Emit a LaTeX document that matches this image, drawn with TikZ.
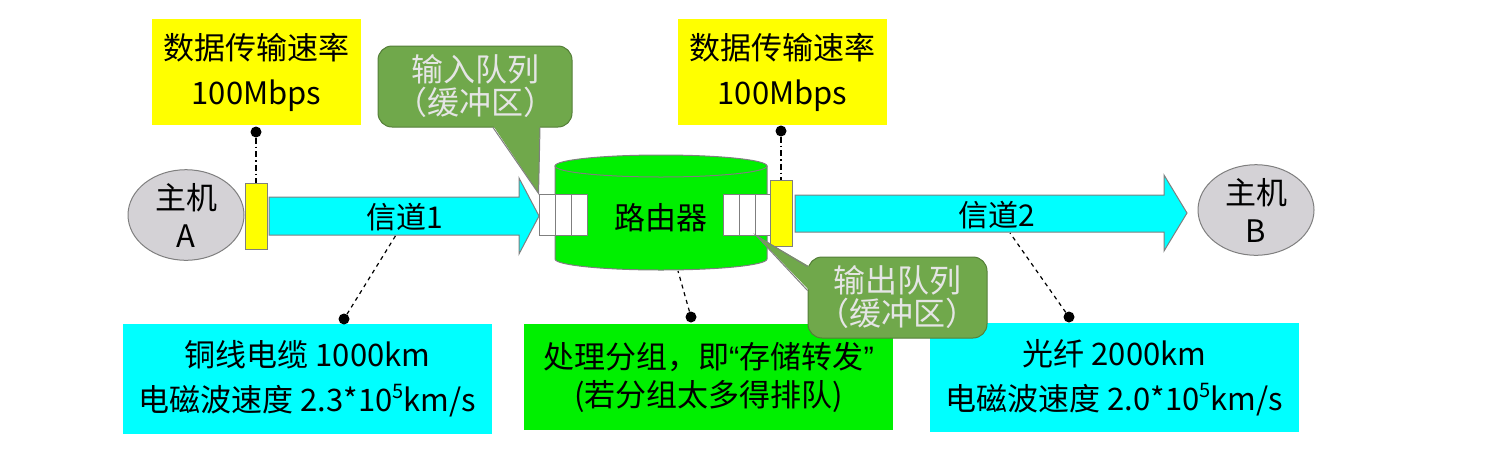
\documentclass[tikz,border=0pt]{standalone}
\usepackage{fontspec}
\setmainfont{Noto Sans CJK SC}
\newfontfamily\quotefont{Liberation Sans}
\usetikzlibrary{shapes.geometric}

\definecolor{rateyellow}{HTML}{FFFF00}
\definecolor{chancyan}{HTML}{00FFFF}
\definecolor{routergreen}{HTML}{00F000}
\definecolor{queuegreen}{HTML}{70A84B}
\definecolor{hostgray}{HTML}{D4D2D6}
\definecolor{edgegray}{HTML}{7F7F7F}

\newcommand{\powfive}{\raisebox{0.42em}{\fontsize{20}{20}\selectfont 5}}

\tikzset{
  host/.style={ellipse,draw=edgegray,fill=hostgray,line width=1pt,minimum width=116pt,minimum height=76pt,inner sep=0pt,align=center,font=\fontsize{31}{38}\selectfont},
  port/.style={draw=edgegray,fill=rateyellow,line width=1pt,minimum width=22pt,minimum height=66pt,inner sep=0pt},
  ratebox/.style={fill=rateyellow,minimum width=209pt,minimum height=106pt,inner sep=0pt,align=center,font=\fontsize{31}{45}\selectfont},
  infobox/.style={minimum width=369pt,minimum height=108pt,inner sep=0pt,align=center,font=\fontsize{31}{45}\selectfont},
  qcallout/.style={draw=queuegreen!75!black,fill=queuegreen,rounded corners=14pt,line width=1pt,inner sep=0pt,align=center,text=white!90!black,font=\fontsize{32}{33}\selectfont},
  qcell/.style={draw=edgegray,fill=white,line width=1pt,minimum width=16.3pt,minimum height=41pt,inner sep=0pt},
  pindot/.style={circle,fill=black,minimum size=11pt,inner sep=0pt},
  chan/.style={draw=edgegray,fill=chancyan,line width=1pt},
  edge/.style={draw=edgegray,line width=1pt},
  ratelink/.style={line width=1.2pt,dash pattern=on 6pt off 3pt on 1.5pt off 3pt},
  notelink/.style={line width=1.2pt,dash pattern=on 4pt off 4pt},
}

\begin{document}
\begin{tikzpicture}[x=1pt,y=-1pt]
  \useasboundingbox (0,0) rectangle (1496,448);
  % hosts and channels
  \node[host] (hostA) at (186,215) {主机\\A};
  \node[host] (hostB) at (1256,210) {主机\\B};
  \filldraw[chan] (269,197) -- (519,197) -- (519,178) -- (539,216) -- (519,254) -- (519,235) -- (269,235) -- cycle;
  \filldraw[chan] (795,195) -- (1164,195) -- (1164,175) -- (1187,213) -- (1164,251) -- (1164,232) -- (795,232) -- cycle;
  \node[font=\fontsize{30}{35}\selectfont] (ch1) at (405,217) {信道1};
  \node[font=\fontsize{30}{35}\selectfont] (ch2) at (997,215) {信道2};
  \node[port] (portA) at (256,216) {};
  % router
  \filldraw[fill=routergreen,draw=edgegray,line width=1pt] (555,166) -- (555,259) arc[start angle=180,end angle=0,x radius=106,y radius=11] -- (767,166) -- cycle;
  \filldraw[fill=routergreen,draw=edgegray,line width=1pt] (661,166) ellipse[x radius=106,y radius=11];
  \node[font=\fontsize{31}{36}\selectfont] (router) at (661,218) {路由器};
  \foreach \i in {0,1,2} {
    \node[qcell] (inq\i) at (547.2+\i*16.3,214.5) {};
    \node[qcell] (outq\i) at (731.2+\i*16.3,214.5) {};
  }
  \node[port] (portB) at (781,213) {};
  % rates
  \node[ratebox] (rateA) at (256.5,72) {数据传输速率\\100Mbps};
  \node[ratebox] (rateB) at (782.5,72) {数据传输速率\\100Mbps};
  \node[pindot] (rateAdot) at (256,132) {};
  \node[pindot] (rateBdot) at (781,131) {};
  \draw[ratelink] (rateAdot) -- (portA);
  \draw[ratelink] (rateBdot) -- (portB);
  % notes below
  \node[infobox,fill=chancyan,minimum height=110pt] (cable) at (307.5,379) {铜线电缆 1000km\\电磁波速度 2.3*10\powfive km/s};
  \node[infobox,fill=routergreen,minimum height=106pt,font=\fontsize{31}{38}\selectfont] (proc) at (708.5,377) {处理分组，即{\quotefont “}存储转发{\quotefont ”}\\(若分组太多得排队)};
  \node[infobox,fill=chancyan,minimum height=109pt] (fiber) at (1114.5,377.5) {光纤 2000km\\电磁波速度 2.0*10\powfive km/s};
  \node[pindot] (cabledot) at (344,319) {};
  \node[pindot] (procdot) at (691,317) {};
  \node[pindot] (fiberdot) at (1069,317) {};
  \coordinate (ch1foot) at (396,235);
  \coordinate (rtfoot) at (678,271);
  \coordinate (ch2foot) at (1010,233);
  \draw[notelink] (cabledot) -- (ch1foot);
  \draw[notelink] (procdot) -- (rtfoot);
  \draw[notelink] (fiberdot) -- (ch2foot);
  % queue callouts
  \node[qcallout,minimum width=194pt,minimum height=81pt] (inqtag) at (475,86.5) {输入队列\\（缓冲区）};
  \fill[queuegreen] ([xshift=18pt,yshift=2pt]inqtag.south) -- (inq0.north west) -- ([xshift=65pt,yshift=2pt]inqtag.south) -- cycle;
  \draw[edge] ([xshift=18pt]inqtag.south) -- (inq0.north west) -- ([xshift=65pt]inqtag.south);
  \node[qcallout,minimum width=179pt,minimum height=81pt] (outqtag) at (897.5,297.5) {输出队列\\（缓冲区）};
  \fill[queuegreen] ([xshift=2pt,yshift=31pt]outqtag.west) -- (outq1.south east) -- ([xshift=2pt,yshift=7pt]outqtag.west) -- cycle;
  \draw[edge] ([yshift=31pt]outqtag.west) -- (outq1.south east) -- ([yshift=7pt]outqtag.west);
\end{tikzpicture}
\end{document}
